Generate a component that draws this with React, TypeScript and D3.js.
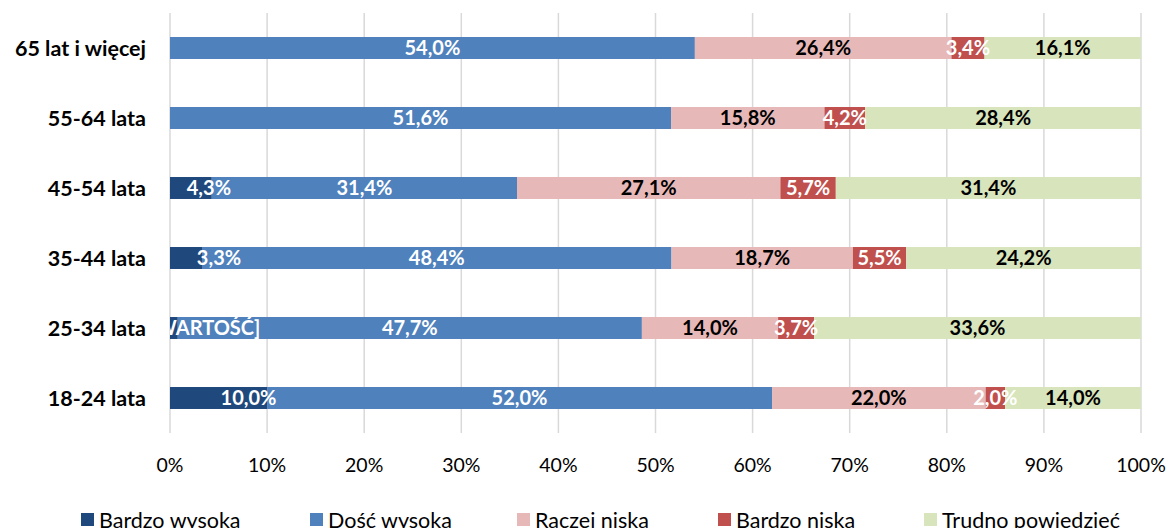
import { useEffect, useRef } from "react";
import * as d3 from "d3";

// Categories, top to bottom
const categories = [
  "65 lat i więcej",
  "55-64 lata",
  "45-54 lata",
  "35-44 lata",
  "25-34 lata",
  "18-24 lata",
];

const seriesNames = ["Bardzo wysoka", "Dość wysoka", "Raczej niska", "Bardzo niska", "Trudno powiedzieć"];

const bardzoWysoka = [0, 0, 4.3, 3.3, 0.8, 10.0];
const doscWysoka = [54.0, 51.6, 31.4, 48.4, 47.7, 52.0];
const raczejNiska = [26.4, 15.8, 27.1, 18.7, 14.0, 22.0];
const bardzoNiska = [3.4, 4.2, 5.7, 5.5, 3.7, 2.0];
const trudno = [16.1, 28.4, 31.4, 24.2, 33.6, 14.0];

// Excel left a placeholder label on one segment
const bardzoWysokaLabels = [null, null, null, null, "[WARTOŚĆ]", null];

const ticks = [0, 0.1, 0.2, 0.3, 0.4, 0.5, 0.6, 0.7, 0.8, 0.9, 1];

const colors = ["#1f497d", "#4f81bd", "#e6b9b8", "#c0504d", "#d7e4bc"];
const labelColors = ["#fff", "#fff", "#000", "#fff", "#000"];
// the dark series labels were dragged right by hand in the original
const darkLabelShift = [0, 0, 18, 33, 31, 30];

const W = 1170;
const H = 528;
const FONT = "Lato, 'Open Sans', sans-serif";

const App = () => {
  const svgRef = useRef<SVGSVGElement>(null);

  useEffect(() => {
    if (!svgRef.current) return;
    const svg = d3.select(svgRef.current);
    svg.selectAll("*").remove();

    const values = [bardzoWysoka, doscWysoka, raczejNiska, bardzoNiska, trudno];
    const rows = categories.map((c, i) => {
      const r: any = { cat: c };
      seriesNames.forEach((s, j) => (r[s] = values[j][i]));
      return r;
    });

    const stacked = d3.stack<any>().keys(seriesNames).offset(d3.stackOffsetExpand)(rows);

    const x = d3.scaleLinear().domain([0, 1]).range([170, 1141]);
    const y = d3
      .scaleBand()
      .domain(categories)
      .range([13, 433])
      .paddingInner(0.686)
      .paddingOuter(0.343);

    // Gridlines
    svg
      .append("g")
      .selectAll("line")
      .data(ticks)
      .enter()
      .append("line")
      .attr("x1", (d) => x(d))
      .attr("x2", (d) => x(d))
      .attr("y1", 13)
      .attr("y2", 433)
      .attr("stroke", "#d9d9d9")
      .attr("stroke-width", 1.5);

    // Bars
    stacked.forEach((layer, j) => {
      svg
        .append("g")
        .selectAll("rect")
        .data(layer)
        .enter()
        .append("rect")
        .attr("x", (d) => x(d[0]))
        .attr("y", (d: any) => y(d.data.cat)!)
        .attr("width", (d) => Math.max(0, x(d[1]) - x(d[0])))
        .attr("height", y.bandwidth())
        .attr("fill", colors[j]);
    });

    // Data labels, clipped to the plot area
    svg
      .append("clipPath")
      .attr("id", "plotClip")
      .append("rect")
      .attr("x", x(0))
      .attr("y", 0)
      .attr("width", W - x(0))
      .attr("height", H);

    const lg = svg.append("g").attr("clip-path", "url(#plotClip)");
    stacked.forEach((layer, j) => {
      layer.forEach((d: any, i) => {
        const v = values[j][i];
        if (!v) return;
        const override = j === 0 ? bardzoWysokaLabels[i] : null;
        const txt = override ?? `${v.toFixed(1).replace(".", ",")}%`;
        const shift = j === 0 ? darkLabelShift[i] : 0;
        lg.append("text")
          .attr("x", (x(d[0]) + x(d[1])) / 2 + shift)
          .attr("y", y(d.data.cat)! + y.bandwidth() / 2)
          .attr("dy", "0.36em")
          .attr("text-anchor", "middle")
          .attr("font-family", FONT)
          .attr("font-weight", 700)
          .attr("font-size", 20)
          .attr("fill", labelColors[j])
          .text(txt);
      });
    });

    // Category labels
    svg
      .append("g")
      .selectAll("text")
      .data(categories)
      .enter()
      .append("text")
      .attr("x", 146)
      .attr("y", (d) => y(d)! + y.bandwidth() / 2)
      .attr("dy", "0.36em")
      .attr("text-anchor", "end")
      .attr("font-family", FONT)
      .attr("font-weight", 700)
      .attr("font-size", 21.5)
      .attr("fill", "#000")
      .text((d) => d);

    // X tick labels
    svg
      .append("g")
      .selectAll("text")
      .data(ticks)
      .enter()
      .append("text")
      .attr("x", (d) => x(d))
      .attr("y", 465)
      .attr("dy", "0.36em")
      .attr("text-anchor", "middle")
      .attr("font-family", FONT)
      .attr("font-size", 19.5)
      .attr("fill", "#000")
      .text((d) => `${Math.round(d * 100)}%`);

    // Legend
    const legendX = [81, 310, 517, 718, 924];
    const leg = svg
      .append("g")
      .selectAll("g")
      .data(seriesNames)
      .enter()
      .append("g")
      .attr("transform", (_d, i) => `translate(${legendX[i]},519)`);
    leg
      .append("rect")
      .attr("x", 0)
      .attr("y", -6)
      .attr("width", 13)
      .attr("height", 13)
      .attr("fill", (_d, i) => colors[i]);
    leg
      .append("text")
      .attr("x", 18)
      .attr("y", 1)
      .attr("dy", "0.36em")
      .attr("font-family", FONT)
      .attr("font-size", 21.5)
      .attr("fill", "#000")
      .text((d) => d);
  }, []);

  return (
    <svg
      ref={svgRef}
      width={W}
      height={H}
      style={{ position: "absolute", left: 0, top: 0, background: "#fff", display: "block" }}
    />
  );
};

export default App;
